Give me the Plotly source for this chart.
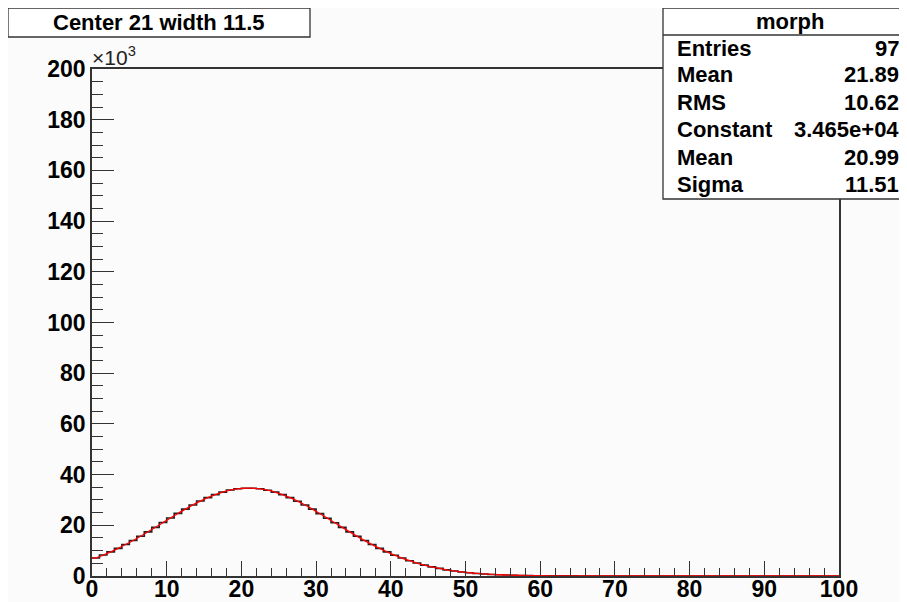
import plotly.graph_objects as go

# histogram "morph": 100 bins on [0, 100], contents in units of 10^3
bin_edges = list(range(0, 101))
counts = [7.1, 8.3, 9.5, 10.9, 12.4, 14.0, 15.7, 17.4, 19.2, 21.1,
          22.9, 24.7, 26.4, 28.0, 29.6, 30.9, 32.1, 33.1, 33.9, 34.4,
          34.6, 34.6, 34.4, 33.8, 33.1, 32.1, 30.9, 29.5, 28.0, 26.4,
          24.6, 22.8, 21.0, 19.2, 17.4, 15.7, 14.0, 12.4, 10.9, 9.5,
          8.2, 7.1, 6.0, 5.1, 4.3, 3.6, 3.0, 2.4, 2.0, 1.6,
          1.3, 1.0, 0.8, 0.6, 0.5, 0.4, 0.3, 0.2, 0.2, 0.1,
          0.1, 0.07, 0.05, 0.04, 0.03, 0.02, 0.01, 0.01, 0, 0,
          0, 0, 0, 0, 0, 0, 0, 0, 0, 0,
          0, 0, 0, 0, 0, 0, 0, 0, 0, 0,
          0, 0, 0, 0, 0, 0, 0, 0, 0, 0]

# gaussian fit curve, sampled at bin centres
fit_x = [e + 0.5 for e in bin_edges[:-1]]
fit_y = [7.11, 8.26, 9.54, 10.92, 12.42, 14.01, 15.69, 17.44, 19.23, 21.05,
         22.87, 24.66, 26.40, 28.04, 29.56, 30.93, 32.11, 33.09, 33.85, 34.36,
         34.62, 34.62, 34.35, 33.84, 33.08, 32.09, 30.90, 29.53, 28.01, 26.37,
         24.63, 22.84, 21.02, 19.20, 17.40, 15.65, 13.98, 12.38, 10.89, 9.51,
         8.24, 7.08, 6.04, 5.12, 4.30, 3.59, 2.97, 2.44, 1.99, 1.61,
         1.29, 1.03, 0.82, 0.64, 0.50, 0.39, 0.30, 0.23, 0.17, 0.13,
         0.10, 0.07, 0.05, 0.04, 0.03, 0.02, 0.01, 0.01, 0, 0,
         0, 0, 0, 0, 0, 0, 0, 0, 0, 0,
         0, 0, 0, 0, 0, 0, 0, 0, 0, 0,
         0, 0, 0, 0, 0, 0, 0, 0, 0, 0]

title_text = "Center 21 width 11.5"
stats_name = "morph"
stats_labels = ["Entries", "Mean", "RMS", "Constant", "Mean", "Sigma"]
stats_values = ["97", "21.89", "10.62", "3.465e+04", "20.99", "11.51"]

# the page body has an 8px margin, so the figure starts at (8, 8) in the window
OFF = 8
W, H = 907 - OFF, 602 - OFF
L, R, T, B = 92, 839, 69, 576          # plot area in window pixels
FONT = dict(family="Liberation Sans, Arial", size=22, color="black", weight="bold")
TICKFONT = dict(family="Liberation Sans, Arial", size=23, color="black", weight="bold")
BG = "#fbfbfb"


def px(x):
    return (x - L) / (R - L)


def py(y):
    return (B - y) / (B - T)


fig = go.Figure()

fig.add_trace(go.Scatter(
    x=bin_edges, y=counts + [counts[-1]],
    mode="lines", line=dict(color="#222", width=1.6, shape="hv"),
    showlegend=False, hoverinfo="skip"))

fig.add_trace(go.Scatter(
    x=[0] + fit_x + [100], y=[fit_y[0]] + fit_y + [fit_y[-1]],
    mode="lines", line=dict(color="red", width=1.3, shape="spline"),
    showlegend=False, hoverinfo="skip"))

axis_common = dict(
    showline=True, linecolor="#333", linewidth=1.5, mirror=True,
    showgrid=False, zeroline=False, ticks="inside", tickcolor="#333",
    tickwidth=1.3, tickfont=TICKFONT, automargin=False,
)

fig.update_xaxes(range=[0, 100], dtick=10, tick0=0, ticklen=15, ticklabelstandoff=-8,
                 minor=dict(ticks="inside", dtick=2, ticklen=8, tickcolor="#333", showgrid=False),
                 **axis_common)
fig.update_yaxes(range=[0, 200], dtick=20, tick0=0, ticklen=22,
                 minor=dict(ticks="inside", dtick=5, ticklen=11, tickcolor="#333", showgrid=False),
                 **axis_common)

shapes = [
    # title box
    dict(type="rect", xref="paper", yref="paper",
         x0=px(8), x1=px(310), y0=py(37), y1=py(8),
         line=dict(color="#333", width=1.3), fillcolor="white", layer="above"),
    # stats box
    dict(type="rect", xref="paper", yref="paper",
         x0=px(663), x1=px(906), y0=py(199), y1=py(8),
         line=dict(color="#333", width=1.3), fillcolor="white", layer="above"),
    dict(type="line", xref="paper", yref="paper",
         x0=px(663), x1=px(906), y0=py(35), y1=py(35),
         line=dict(color="#333", width=1.3), layer="above"),
]

annotations = [
    dict(text=title_text, x=px(159), y=py(22.5), xref="paper", yref="paper",
         xanchor="center", yanchor="middle", showarrow=False, font=FONT),
    dict(text="×10<sup>3</sup>", x=px(90), y=py(71), xref="paper", yref="paper",
         xanchor="left", yanchor="bottom", showarrow=False,
         font=dict(family="Liberation Sans, Arial", size=21, color="#222")),
    dict(text=stats_name, x=px(790), y=py(22), xref="paper", yref="paper",
         xanchor="center", yanchor="middle", showarrow=False, font=FONT),
]

row_y = [48, 75, 102, 130, 157, 184]
for lab, val, yy in zip(stats_labels, stats_values, row_y):
    annotations.append(dict(text=lab, x=px(675), y=py(yy), xref="paper", yref="paper",
                            xanchor="left", yanchor="middle", showarrow=False, font=FONT))
    annotations.append(dict(text=val, x=px(901), y=py(yy), xref="paper", yref="paper",
                            xanchor="right", yanchor="middle", showarrow=False, font=FONT))

fig.update_layout(
    width=W, height=H,
    margin=dict(l=L - OFF, r=907 - R, t=T - OFF, b=602 - B, pad=0),
    paper_bgcolor=BG, plot_bgcolor=BG,
    shapes=shapes, annotations=annotations,
    showlegend=False,
)

fig.write_html("out.html")
